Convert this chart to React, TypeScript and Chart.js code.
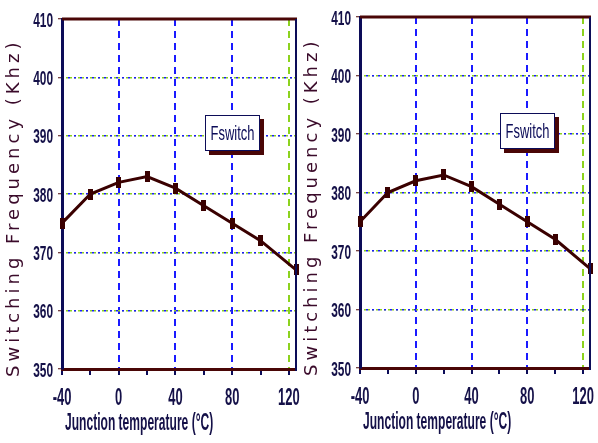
import React, { useEffect, useRef } from 'react';
import { Chart, registerables } from 'chart.js';

Chart.register(...registerables);

// ---- data ----
const temperatures = [-40, -20, 0, 20, 40, 60, 80, 100, 125];
const frequencies = [375, 380, 382, 383, 381, 378, 375, 372, 367];
const xTickValues = [-40, -20, 0, 20, 40, 60, 80, 100, 120];
const xMajorTicks = [-40, 0, 40, 80, 120];
const blueVerticalLines = [0, 40, 80];
const greenVerticalLines = [120];
const yGridValues = [360, 370, 380, 390, 400];
const seriesLabel = 'Fswitch';
const xTitle = 'Junction temperature (°C)';
const yTitle = 'Switching Frequency (Khz)';

// ---- styles ----
const NAVY = '#0c0c58';
const TEXT = '#141048';
const MAROON = '#4a0606';
const LINE = '#3a0000';
const BLUE = '#1a1aff';
const GREEN = '#8cd21e';
const ARIAL = "'Liberation Sans', Arial, sans-serif";

type PanelProps = {
  left: number;
  width: number;
  padTop: number;
  padRight: number;
  xHeight: number;
};

function makeMarker(): HTMLCanvasElement {
  const c = document.createElement('canvas');
  c.width = 5;
  c.height = 11;
  const g = c.getContext('2d')!;
  g.fillStyle = LINE;
  g.fillRect(0, 0, 5, 11);
  return c;
}

// draw narrow, tall text (the original uses a condensed bitmap font)
function drawScaledText(
  ctx: CanvasRenderingContext2D,
  text: string,
  x: number,
  baseline: number,
  sx: number,
  sy: number,
  align: CanvasTextAlign,
  weight = 'bold',
  size = 18,
) {
  ctx.save();
  ctx.translate(x, baseline);
  ctx.scale(sx, sy);
  ctx.font = `${weight} ${size}px ${ARIAL}`;
  ctx.textAlign = align;
  ctx.textBaseline = 'alphabetic';
  ctx.fillText(text, 0, 0);
  ctx.restore();
}

function Panel({ left, width, padTop, padRight, xHeight }: PanelProps) {
  const ref = useRef<HTMLCanvasElement | null>(null);

  useEffect(() => {
    if (!ref.current) return;
    const marker = makeMarker();

    const framePlugin = {
      id: 'frame',
      afterDraw(chart: any) {
        const { ctx, chartArea } = chart;
        const { left: l, right: r, top: t, bottom: b } = chartArea;
        const xs = chart.scales.x;
        const ys = chart.scales.y;
        ctx.save();
        // top border
        ctx.strokeStyle = MAROON;
        ctx.lineWidth = 3;
        ctx.beginPath();
        ctx.moveTo(l, t);
        ctx.lineTo(r + 1, t);
        ctx.stroke();
        // right border
        ctx.strokeStyle = NAVY;
        ctx.lineWidth = 2;
        ctx.beginPath();
        ctx.moveTo(r, t);
        ctx.lineTo(r, b + 2);
        ctx.stroke();

        // tick labels from the library's scales
        ctx.fillStyle = TEXT;
        xs.ticks.forEach((tk: any) => {
          if (!xMajorTicks.includes(tk.value)) return;
          drawScaledText(ctx, String(tk.value), xs.getPixelForValue(tk.value), b + 36, 0.72, 1.3, 'center');
        });
        ys.ticks.forEach((tk: any) => {
          drawScaledText(ctx, String(tk.value), l - 9, ys.getPixelForValue(tk.value) + 7.5, 0.66, 1.16, 'right');
        });

        // x-axis title
        drawScaledText(ctx, xTitle, l + 3, b + 61, 0.67, 1.3, 'left');

        // legend box
        const bw = 55;
        const bh = 36;
        const bx = Math.round(l + (r - l) * 0.61);
        const by = Math.round(t + (b - t) * 0.274);
        ctx.fillStyle = MAROON;
        ctx.fillRect(bx + 4, by + 4, bw, bh);
        ctx.fillStyle = '#ffffff';
        ctx.fillRect(bx, by, bw, bh);
        ctx.strokeStyle = NAVY;
        ctx.lineWidth = 1;
        ctx.strokeRect(bx + 0.5, by + 0.5, bw - 1, bh - 1);
        ctx.fillStyle = NAVY;
        drawScaledText(ctx, seriesLabel, bx + bw / 2, by + bh / 2 + 7, 0.72, 1.08, 'center', 'normal');

        // y-axis title (letter-spaced)
        ctx.translate(14, b + 8);
        ctx.rotate(-Math.PI / 2);
        (ctx as any).letterSpacing = '4px';
        ctx.fillStyle = '#3a0a2a';
        ctx.font = `18px 'DejaVu Sans', sans-serif`;
        ctx.textAlign = 'left';
        ctx.textBaseline = 'middle';
        ctx.fillText(yTitle, 0, 0);
        ctx.restore();
      },
    };

    const chart = new Chart(ref.current, {
      type: 'line',
      data: {
        datasets: [
          {
            label: seriesLabel,
            data: temperatures.map((t, i) => ({ x: t, y: frequencies[i] })),
            borderColor: LINE,
            borderWidth: 3,
            pointStyle: marker as any,
            pointRadius: 5,
            tension: 0,
            clip: false as any,
          },
        ],
      },
      options: {
        animation: false,
        responsive: false,
        maintainAspectRatio: false,
        layout: { padding: { left: 0, right: padRight, top: padTop, bottom: 0 } },
        plugins: { legend: { display: false }, tooltip: { enabled: false } },
        scales: {
          x: {
            type: 'linear',
            min: -40,
            max: 125,
            afterBuildTicks: (s: any) => {
              s.ticks = xTickValues.map((v) => ({ value: v }));
            },
            afterFit: (s: any) => {
              s.height = xHeight;
            },
            ticks: { display: false },
            grid: {
              drawTicks: true,
              tickLength: 6,
              lineWidth: 2,
              color: (c: any) => {
                const v = c.tick?.value;
                if (blueVerticalLines.includes(v)) return BLUE;
                if (greenVerticalLines.includes(v)) return GREEN;
                return 'rgba(0,0,0,0)';
              },
              tickColor: NAVY,
              tickWidth: 2,
            },
            border: { display: true, color: MAROON, width: 3, dash: [7, 5] },
          },
          y2: {
            type: 'linear',
            position: 'right',
            min: 350,
            max: 410,
            afterFit: (s: any) => {
              s.width = 0;
            },
            ticks: { display: false, stepSize: 10 },
            grid: {
              drawTicks: false,
              lineWidth: 1.5,
              color: (c: any) => (yGridValues.includes(c.tick?.value) ? GREEN : 'rgba(0,0,0,0)'),
            },
            border: { display: false, dash: [2, 2] },
          },
          y: {
            type: 'linear',
            min: 350,
            max: 410,
            afterFit: (s: any) => {
              s.width = 62;
            },
            ticks: { stepSize: 10, display: false },
            grid: {
              drawTicks: true,
              tickLength: 4,
              lineWidth: 1.5,
              color: (c: any) => (yGridValues.includes(c.tick?.value) ? BLUE : 'rgba(0,0,0,0)'),
              tickColor: MAROON,
              tickWidth: 1,
            },
            border: { display: true, color: NAVY, width: 3, dash: [2, 4], dashOffset: 2 },
          },
        },
      },
      plugins: [framePlugin],
    });

    return () => chart.destroy();
  }, [left, width, padTop, padRight, xHeight]);

  return (
    <canvas
      ref={ref}
      width={width}
      height={443}
      style={{ position: 'absolute', left, top: 0, width, height: 443 }}
    />
  );
}

export default function App() {
  return (
    <div
      style={{
        position: 'absolute',
        left: 0,
        top: 0,
        width: 598,
        height: 443,
        background: '#ffffff',
        overflow: 'hidden',
      }}
    >
      <Panel left={0} width={304} padTop={19} padRight={2} xHeight={74} />
      <Panel left={298} width={300} padTop={17} padRight={3} xHeight={75} />
    </div>
  );
}
